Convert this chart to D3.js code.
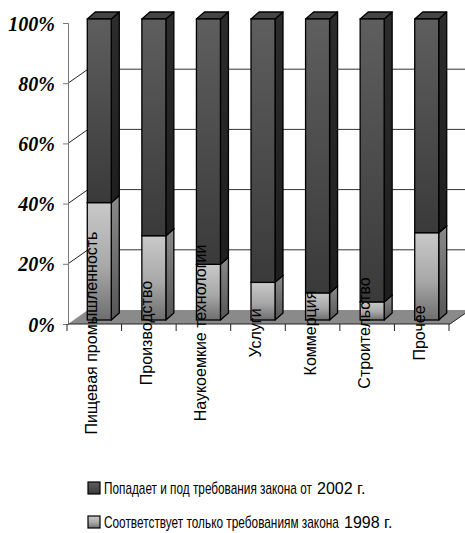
<!DOCTYPE html>
<html>
<head>
<meta charset="utf-8">
<script src="https://cdn.jsdelivr.net/npm/d3@7"></script>
<style>
  html, body { margin: 0; padding: 0; background: #fff; }
  svg { display: block; }
</style>
</head>
<body>
<svg id="chart" width="465" height="533"></svg>
<script>
// Industries
const categories = ["Пищевая промышленность", "Производство", "Наукоемкие технологии",
  "Услуги", "Коммерция", "Строительство", "Прочее"];
// Share of companies meeting only the 1998 law (%)
const only1998 = [39, 28, 18.5, 12.5, 9, 6, 29];
// Share of companies also falling under the 2002 law (%)
const also2002 = only1998.map(v => 100 - v);
const yTicks = [0, 20, 40, 60, 80, 100];
const legendLabels = [
  ["Попадает и под требования закона от", "2002 г."],
  ["Соответствует только требованиям закона", "1998 г."]
];

const svg = d3.select("#chart");

// 3D geometry: floor/back-wall depth and the bars' own depth
const DX = 20, DY = -14;          // wall depth
const BX = 5, BY = -4;            // bar front plane inside the depth
const BDX = 8, BDY = -7;          // bar depth
const barW = 24;

const x = d3.scaleBand().domain(categories).range([67, 449]).paddingInner(0).paddingOuter(0);
const y = d3.scaleLinear().domain([0, 100]).range([324, 23]);

const defs = svg.append("defs");
function grad(id, stops) {
  const g = defs.append("linearGradient").attr("id", id)
    .attr("x1", 0).attr("y1", 0).attr("x2", 0).attr("y2", 1);
  stops.forEach(([o, c]) => g.append("stop").attr("offset", o).attr("stop-color", c));
}
grad("darkFront", [[0, "#5e5e5e"], [1, "#3a3a3a"]]);
grad("darkSide", [[0, "#2c2c2c"], [1, "#1e1e1e"]]);
grad("lightFront", [[0, "#c9c9c9"], [0.55, "#a8a8a8"], [1, "#6e6e6e"]]);
grad("lightSide", [[0, "#8a8a8a"], [1, "#555555"]]);

// Back wall gridlines and side wall connectors
const grid = svg.append("g");
yTicks.filter(t => t > 0 && t < 100).forEach(t => {
  grid.append("line")
    .attr("x1", 68 + DX).attr("x2", 470)
    .attr("y1", y(t) + DY).attr("y2", y(t) + DY)
    .attr("stroke", "#333").attr("stroke-width", 1);
  grid.append("line")
    .attr("x1", 68).attr("y1", y(t))
    .attr("x2", 68 + DX).attr("y2", y(t) + DY)
    .attr("stroke", "#222").attr("stroke-width", 1);
});

// Floor
const floorL = 68, floorR = 450;
svg.append("polygon")
  .attr("points", [[floorL, y(0)], [floorR, y(0)], [floorR + DX, y(0) + DY], [floorL + DX, y(0) + DY]]
    .map(p => p.join(",")).join(" "))
  .attr("fill", "#8a8a8a");
svg.append("line")
  .attr("x1", floorR).attr("y1", y(0)).attr("x2", floorR + DX).attr("y2", y(0) + DY)
  .attr("stroke", "#222").attr("stroke-width", 1);

// Y axis
const yAxis = d3.axisLeft(y).tickValues(yTicks).tickSize(5).tickFormat(d => d + "%");
const gy = svg.append("g").attr("transform", "translate(68,0)").call(yAxis);
gy.select(".domain").attr("stroke", "#777");
gy.selectAll(".tick line").attr("stroke", "#777");
gy.selectAll(".tick text")
  .attr("x", -13).attr("dy", "0.35em")
  .attr("font-family", "'Liberation Serif', 'Times New Roman', serif")
  .attr("font-weight", "bold").attr("font-style", "italic")
  .attr("font-size", 20).attr("fill", "#000");

// X axis (ticks at category boundaries)
const gx = svg.append("g");
gx.append("line").attr("x1", 68).attr("x2", floorR).attr("y1", y(0)).attr("y2", y(0))
  .attr("stroke", "#222");
const bounds = categories.map(c => x(c)).concat([x.range()[1]]);
gx.selectAll("line.tk").data(bounds).join("line").attr("class", "tk")
  .attr("x1", d => d).attr("x2", d => d).attr("y1", y(0)).attr("y2", y(0) + 7)
  .attr("stroke", "#222");

// Bars
function drawSegment(g, x0, v0, v1, front, side, top) {
  const x1 = x0 + barW;
  const yb = y(v0) + BY, yt = y(v1) + BY;
  const pts = a => a.map(p => p.join(",")).join(" ");
  g.append("polygon")
    .attr("points", pts([[x1, yb], [x1 + BDX, yb + BDY], [x1 + BDX, yt + BDY], [x1, yt]]))
    .attr("fill", side).attr("stroke", "#000").attr("stroke-width", 1.3).attr("stroke-linejoin", "round");
  g.append("polygon")
    .attr("points", pts([[x0, yt], [x1, yt], [x1 + BDX, yt + BDY], [x0 + BDX, yt + BDY]]))
    .attr("fill", top).attr("stroke", "#000").attr("stroke-width", 1.3).attr("stroke-linejoin", "round");
  g.append("rect")
    .attr("x", x0).attr("y", yt).attr("width", barW).attr("height", yb - yt)
    .attr("fill", front).attr("stroke", "#000").attr("stroke-width", 1.3);
}
const bars = svg.append("g");
categories.forEach((c, i) => {
  const cx = x(c) + x.bandwidth() / 2 + BX;
  const x0 = cx - barW / 2;
  const g = bars.append("g");
  drawSegment(g, x0, 0, only1998[i], "url(#lightFront)", "url(#lightSide)", "#9a9a9a");
  drawSegment(g, x0, only1998[i], only1998[i] + also2002[i], "url(#darkFront)", "url(#darkSide)", "#454545");
});

// Category labels, rotated
svg.append("g").selectAll("text").data(categories).join("text")
  .attr("transform", d => `translate(${x(d) + x.bandwidth() / 2 - 2.5},333) rotate(-90)`)
  .attr("text-anchor", "middle").attr("dominant-baseline", "central")
  .attr("font-family", "'Liberation Sans', Arial, sans-serif")
  .attr("font-size", 16).attr("fill", "#000")
  .text(d => d);

// Legend: the long phrase is narrowed horizontally to its slot
const legend = svg.append("g");
const legendY = [488, 522];
const squeezed = [208, 235];
legendLabels.forEach((lab, i) => {
  const yy = legendY[i];
  legend.append("rect").attr("x", 88).attr("y", yy - 6).attr("width", 12).attr("height", 12)
    .attr("fill", i === 0 ? "url(#darkFront)" : "url(#lightFront)")
    .attr("stroke", "#000").attr("stroke-width", 1.2);
  const font = sel => sel.attr("dy", "0.35em")
    .attr("font-family", "'Liberation Sans', Arial, sans-serif")
    .attr("font-size", 16).attr("fill", "#000");
  const t = legend.append("text").attr("x", 0).attr("y", 0).call(font).text(lab[0]);
  const w = t.node().getComputedTextLength();
  t.attr("transform", `translate(104,${yy}) scale(${squeezed[i] / w},1)`);
  legend.append("text").attr("x", 104 + squeezed[i] + 5).attr("y", yy).call(font)
    .text(lab[1]);
});
</script>
</body>
</html>
